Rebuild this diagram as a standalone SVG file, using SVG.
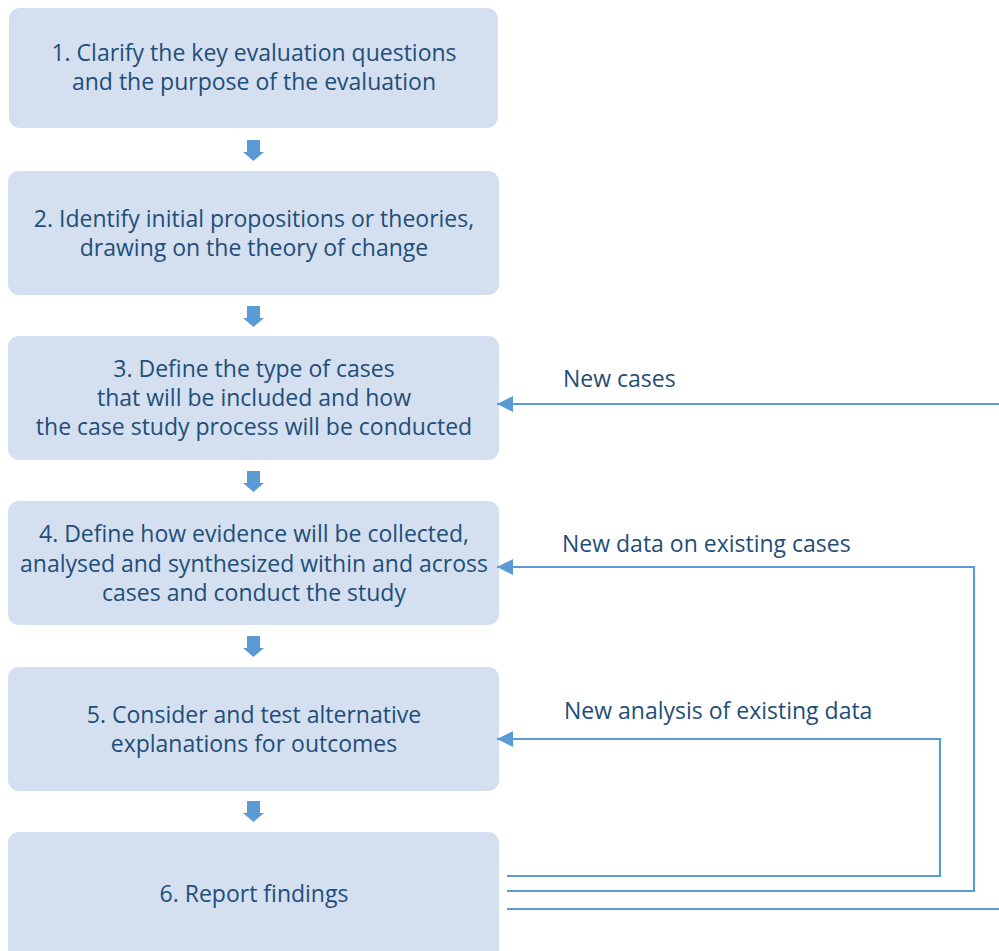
<svg xmlns="http://www.w3.org/2000/svg" width="999" height="951" viewBox="0 0 999 951">
<style>
.box{fill:#d4dfef;}
.t{font-family:"Open Sans","Liberation Sans",sans-serif;font-size:23px;fill:#1f4e79;text-anchor:middle;}
.lbl{font-family:"Open Sans","Liberation Sans",sans-serif;font-size:23px;fill:#1f4e79;}
.fb{fill:none;stroke:#5b9bd5;stroke-width:2.2;}
.ba{fill:#5b9bd5;}
</style>
<defs>
<marker id="ah" markerWidth="16" markerHeight="16" viewBox="0 0 16 16" refX="16" refY="8" orient="auto" markerUnits="userSpaceOnUse">
<path d="M0,0 L16,8 L0,16 Z" fill="#5b9bd5"/>
</marker>
<path id="down" d="M-7,0 H6 V12 H10 L-0.5,21 L-11,12 H-7 Z"/>
</defs>
<g id="node1"><rect class="box" x="9" y="8" width="489" height="120" rx="11"/>
<text class="t" x="254" y="61">1. Clarify the key evaluation questions</text>
<text class="t" x="254" y="90">and the purpose of the evaluation</text></g>
<g id="node2"><rect class="box" x="8" y="171" width="491" height="124" rx="11"/>
<text class="t" x="254" y="227">2. Identify initial propositions or theories,</text>
<text class="t" x="254" y="256">drawing on the theory of change</text></g>
<g id="node3"><rect class="box" x="8" y="336" width="491" height="124" rx="11"/>
<text class="t" x="254" y="377">3. Define the type of cases</text>
<text class="t" x="254" y="406">that will be included and how</text>
<text class="t" x="254" y="435">the case study process will be conducted</text></g>
<g id="node4"><rect class="box" x="8" y="501" width="491" height="124" rx="11"/>
<text class="t" x="254" y="542">4. Define how evidence will be collected,</text>
<text class="t" x="254" y="572">analysed and synthesized within and across</text>
<text class="t" x="254" y="601">cases and conduct the study</text></g>
<g id="node5"><rect class="box" x="8" y="667" width="491" height="124" rx="11"/>
<text class="t" x="254" y="723">5. Consider and test alternative</text>
<text class="t" x="254" y="752">explanations for outcomes</text></g>
<g id="node6"><rect class="box" x="8" y="832" width="491" height="130" rx="11"/>
<text class="t" x="254" y="902">6. Report findings</text></g>
<g id="connectors">
<use href="#down" class="ba" x="254" y="140"/>
<use href="#down" class="ba" x="254" y="306"/>
<use href="#down" class="ba" x="254" y="471"/>
<use href="#down" class="ba" x="254" y="636"/>
<use href="#down" class="ba" x="254" y="801"/>
<path class="fb" d="M999,404 H497" marker-end="url(#ah)"/>
<path class="fb" d="M507,891 H974 V567 H497" marker-end="url(#ah)"/>
<path class="fb" d="M507,876 H940 V739 H497" marker-end="url(#ah)"/>
<path class="fb" d="M507,909 H999"/>
<text class="lbl" x="563" y="387">New cases</text>
<text class="lbl" x="562" y="552">New data on existing cases</text>
<text class="lbl" x="564" y="719">New analysis of existing data</text>
</g>
</svg>
